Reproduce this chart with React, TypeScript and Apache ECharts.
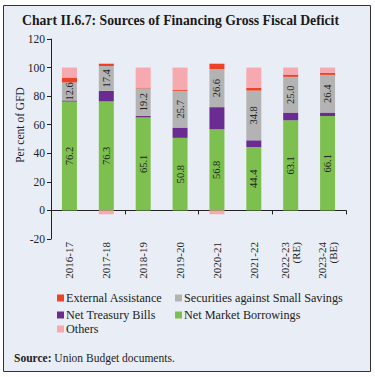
import React, { useEffect, useRef } from "react";
import * as echarts from "echarts";

const categories = ["2016-17", "2017-18", "2018-19", "2019-20", "2020-21", "2021-22", "2022-23\n(RE)", "2023-24\n(BE)"];
const netMarketBorrowings = [76.2, 76.3, 65.1, 50.8, 56.8, 44.4, 63.1, 66.1];
const netTreasuryBills = [0.8, 7.4, 1.1, 7.2, 15.5, 4.7, 5.4, 2.4];
const smallSavings = [12.6, 17.4, 19.2, 25.7, 26.6, 34.8, 25.0, 26.4];
const externalAssistance = [3.4, 1.6, 0.6, 0.6, 3.8, 2.0, 1.6, 1.4];
const others = [7.0, -2.7, 14.0, 15.7, -2.7, 14.1, 4.9, 3.7];
const yTicks = { min: -20, max: 120, interval: 20 };

const FONT = "Liberation Serif";
const C_EXT = "#ee4224";
const C_SSS = "#b3b3b3";
const C_NTB = "#6a2c91";
const C_NMB = "#7dc04f";
const C_OTH = "#f6a9ae";

export default function App() {
  const ref = useRef<HTMLDivElement>(null);
  useEffect(() => {
    if (!ref.current) return;
    const chart = echarts.init(ref.current, null, { renderer: "svg" });
    const valueLabel = {
      show: true,
      position: "inside",
      rotate: 90,
      fontFamily: FONT,
      fontSize: 10.5,
      color: "#222",
      formatter: (p: any) => Number(p.value).toFixed(1),
    };
    const legendBase = (name: string, left: number, top: number) => ({
      data: [name],
      left,
      top,
      padding: 0,
      itemWidth: 7,
      itemHeight: 7,
      itemGap: 0,
      icon: "rect",
      textStyle: { fontFamily: FONT, fontSize: 12.2, color: "#222", padding: [0, 0, 0, -3] },
    });
    chart.setOption({
      animation: false,
      backgroundColor: "#ffffff",
      graphic: [
        {
          type: "rect",
          shape: { x: 3.5, y: 5.5, width: 367, height: 366 },
          style: { fill: "#e9eef6", stroke: "#333", lineWidth: 1 },
          z: -10,
        },
        {
          type: "text",
          x: 22,
          y: 20,
          style: {
            text: "Chart II.6.7: Sources of Financing Gross Fiscal Deficit",
            font: `bold 13.7px "${FONT}"`,
            fill: "#1a1a1a",
            verticalAlign: "middle",
          },
        },
        {
          type: "text",
          x: 20,
          y: 125,
          rotation: Math.PI / 2,
          style: {
            text: "Per cent of GFD",
            font: `11.5px "${FONT}"`,
            fill: "#222",
            align: "center",
            verticalAlign: "middle",
          },
        },
        {
          type: "text",
          x: 14,
          y: 358,
          style: {
            text: "{b|Source:} Union Budget documents.",
            font: `11.5px "${FONT}"`,
            fill: "#222",
            verticalAlign: "middle",
            rich: { b: { fontWeight: "bold", fontFamily: FONT, fontSize: 11.5, fill: "#222" } },
          },
        },
      ],
      legend: [
        legendBase("External Assistance", 57, 292),
        legendBase("Securities against Small Savings", 175, 292),
        legendBase("Net Treasury Bills", 57, 309),
        legendBase("Net Market Borrowings", 175, 309),
        legendBase("Others", 57, 323),
      ],
      grid: { left: 51, right: 29, top: 39, bottom: 138, containLabel: false },
      xAxis: [
        {
          type: "category",
          data: categories,
          position: "bottom",
          axisLine: { show: false, onZero: false },
          axisTick: { show: false },
          axisLabel: {
            rotate: 90,
            fontFamily: FONT,
            fontSize: 11,
            color: "#222",
            margin: 3,
            lineHeight: 11,
          },
        },
        {
          type: "category",
          data: categories,
          position: "bottom",
          axisLine: { show: true, onZero: true, lineStyle: { color: "#222", width: 1 } },
          axisTick: { show: true, length: 4, lineStyle: { color: "#222" } },
          axisLabel: { show: false },
        },
      ],
      yAxis: {
        type: "value",
        min: yTicks.min,
        max: yTicks.max,
        interval: yTicks.interval,
        splitLine: { show: false },
        axisLine: { show: true, lineStyle: { color: "#222" } },
        axisTick: { show: true, length: 4, lineStyle: { color: "#222" } },
        axisLabel: { fontFamily: FONT, fontSize: 11.5, color: "#222", margin: 6 },
      },
      series: [
        { name: "Net Market Borrowings", type: "bar", stack: "t", barWidth: 15, data: netMarketBorrowings, itemStyle: { color: C_NMB }, label: valueLabel },
        { name: "Net Treasury Bills", type: "bar", stack: "t", barWidth: 15, data: netTreasuryBills, itemStyle: { color: C_NTB } },
        { name: "Securities against Small Savings", type: "bar", stack: "t", barWidth: 15, data: smallSavings, itemStyle: { color: C_SSS }, label: valueLabel },
        { name: "External Assistance", type: "bar", stack: "t", barWidth: 15, data: externalAssistance, itemStyle: { color: C_EXT } },
        { name: "Others", type: "bar", stack: "t", barWidth: 15, data: others, itemStyle: { color: C_OTH } },
      ],
    });
    return () => chart.dispose();
  }, []);
  return <div ref={ref} style={{ position: "fixed", left: 0, top: 0, width: 375, height: 377 }} />;
}
